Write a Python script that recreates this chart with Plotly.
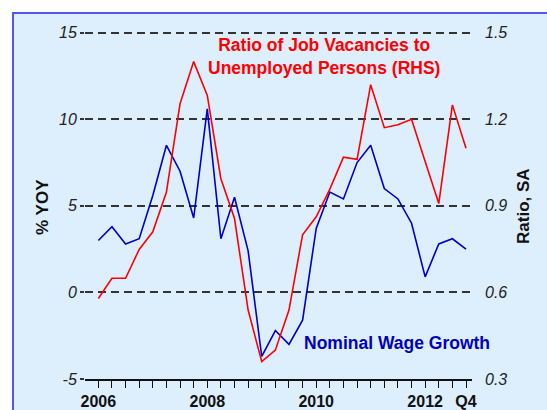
import plotly.graph_objects as go

quarters = [f"{y}Q{q}" for y in range(2006, 2013) for q in range(1, 5)]
wage_growth = [3.0, 3.8, 2.8, 3.1, 5.6, 8.5, 7.0, 4.3, 10.6, 3.1, 5.5, 2.4, -3.7, -2.2,
               -3.0, -1.6, 3.7, 5.8, 5.4, 7.5, 8.5, 6.0, 5.4, 4.0, 0.9, 2.8, 3.1, 2.5]
vacancy_ratio = [0.579, 0.649, 0.649, 0.749, 0.81, 0.948, 1.254, 1.40, 1.283, 0.994, 0.856,
                 0.539, 0.36, 0.40, 0.539, 0.80, 0.862, 0.958, 1.069, 1.061, 1.32, 1.171,
                 1.181, 1.20, 1.054, 0.908, 1.25, 1.10]
x_labels = {"2006Q1": "2006", "2008Q1": "2008", "2010Q1": "2010", "2012Q1": "2012", "2012Q4": "Q4"}
left_ticks = [-5, 0, 5, 10, 15]
right_ticks = [0.3, 0.6, 0.9, 1.2, 1.5]

xi = list(range(len(quarters)))
FONT = "Liberation Sans, Arial, Helvetica, sans-serif"

fig = go.Figure()
fig.add_trace(go.Scatter(x=xi, y=wage_growth, mode="lines",
                         line=dict(color="#0000cc", width=1.6), yaxis="y"))
fig.add_trace(go.Scatter(x=xi, y=vacancy_ratio, mode="lines",
                         line=dict(color="#ff0000", width=1.6), yaxis="y2"))

W, H = 547, 410
PXU = 17.34  # pixels per left-axis unit
EXTRA = 0.1  # range headroom above 15 so the top gridline is drawn
L, R, B = 85, 472, 379
T = 32.3 - EXTRA * PXU
pw, ph = R - L, B - T

def px(xp):
    return (xp - L) / pw

def py(yp):
    return (B - yp) / ph

fig.update_layout(
    width=W, height=H,
    margin=dict(l=L, r=W - R, t=T, b=H - B, autoexpand=False),
    paper_bgcolor="white",
    plot_bgcolor="rgba(0,0,0,0)",
    showlegend=False,
    font=dict(family=FONT, color="#111"),
    xaxis=dict(
        range=[-0.98, 27.44], tickmode="array", tickvals=xi,
        ticktext=[f"<b>{x_labels[q]}</b>" if q in x_labels else "" for q in quarters],
        ticks="outside", ticklen=7, tickwidth=1.2, tickcolor="#111",
        automargin=False,
        showline=True, linecolor="#111", linewidth=1.5,
        showgrid=False, zeroline=False,
        tickfont=dict(size=16, color="#111"),
    ),
    yaxis=dict(
        range=[-5, 15 + EXTRA], tickmode="array", tickvals=left_ticks,
        ticktext=[f"<i>{v}</i>" for v in left_ticks],
        ticks="outside", ticklen=4, tickcolor="#333", tickwidth=1.8,
        showgrid=True, gridcolor="#333", gridwidth=1.8, griddash="8px,5px",
        zeroline=False, showline=False, automargin=False,
        tickfont=dict(size=16, color="#222"),
    ),
    yaxis2=dict(
        range=[0.3, 1.5 + EXTRA * 0.06], overlaying="y", side="right", tickmode="array",
        tickvals=right_ticks, ticktext=[f"<i>{v}</i>" for v in right_ticks],
        showgrid=False, zeroline=False, showline=False, ticks="",
        ticklabelstandoff=12, automargin=False,
        tickfont=dict(size=16, color="#222"),
    ),
    shapes=[dict(type="rect", xref="paper", yref="paper", layer="below",
                 x0=px(13), x1=px(600), y0=py(460), y1=py(12.5),
                 fillcolor="#ddeefd", line=dict(color="#5555ff", width=2))],
)

annotations = [
    dict(text="<b>Ratio of Job Vacancies to<br>Unemployed Persons (RHS)</b>",
         x=px(324), y=py(56), font=dict(size=17.5, color="#ff0000")),
    dict(text="<b>Nominal Wage Growth</b>", x=px(397), y=py(343.3),
         font=dict(size=17.5, color="#0000bb")),
    dict(text="<b>% YOY</b>", x=px(43), y=py(206.7), textangle=-90,
         font=dict(size=17, color="#111")),
    dict(text="<b>Ratio, SA</b>", x=px(524), y=py(205.7), textangle=-90,
         font=dict(size=17, color="#111")),
]
for a in annotations:
    fig.add_annotation(xref="paper", yref="paper", showarrow=False,
                       xanchor="center", yanchor="middle", **a)

fig.write_html("out.html", config={"displayModeBar": False},
               post_script="document.body.style.margin='0';document.body.style.overflow='hidden';")
